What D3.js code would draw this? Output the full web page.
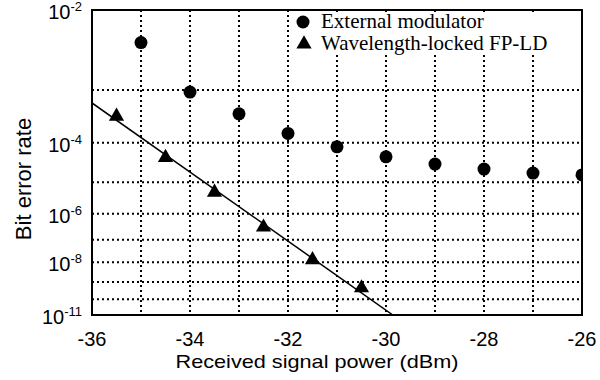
<!DOCTYPE html>
<html>
<head>
<meta charset="utf-8">
<script src="https://cdn.jsdelivr.net/npm/d3@7"></script>
<style>
  body { margin: 0; background: #fff; }
  text { fill: #000; }
</style>
</head>
<body>
<div id="chart"></div>
<script>
// received power (dBm) and bit error rate
const extPower = [-35, -34, -33, -32, -31, -30, -29, -28, -27, -26];
const extBer = [4.5e-3, 9.3e-4, 3.9e-4, 1.6e-4, 8.1e-5, 4.7e-5, 3.1e-5, 2.3e-5, 1.8e-5, 1.6e-5];

const fpPower = [-35.5, -34.5, -33.5, -32.5, -31.5, -30.5];
const fpBer = [3.5e-4, 4.5e-5, 5.0e-6, 3.2e-7, 1.3e-8, 4.6e-10];

// fitted line for the FP-LD points
const fitPower = [-36, -29.86];
const fitBer = [6.1e-4, 1e-11];

const xTicks = [-36, -34, -32, -30, -28, -26];
const xGrid = [-35, -34, -33, -32, -31, -30, -29, -28, -27];
const yTickExp = [2, 4, 6, 8, 11];
const yGridExp = [3, 4, 5, 6, 7, 8, 9, 10];

const legendNames = ["External modulator", "Wavelength-locked FP-LD"];

const width = 600, height = 380;
const pLeft = 92, pRight = 582, pTop = 10, pBottom = 315;

// BER paper: roughly log(-log(BER)) spacing
function berT(b) { return Math.log10(-Math.log10(b) - 0.5); }

const x = d3.scaleLinear().domain([-36, -26]).range([pLeft, pRight]);
const yLin = d3.scaleLinear().domain([berT(1e-2), berT(1e-11)]).range([pTop, pBottom]);
const y = function (b) { return yLin(berT(b)); };

const svg = d3.select("#chart").append("svg")
    .attr("width", width)
    .attr("height", height);

const grid = svg.append("g")
    .attr("stroke", "#000")
    .attr("stroke-width", 2)
    .attr("stroke-dasharray", "2,3");

grid.selectAll(".hg")
    .data(yGridExp)
    .enter()
    .append("line")
    .attr("x1", pLeft)
    .attr("x2", pRight)
    .attr("y1", d => y(Math.pow(10, -d)))
    .attr("y2", d => y(Math.pow(10, -d)));

grid.selectAll(".vg")
    .data(xGrid)
    .enter()
    .append("line")
    .attr("x1", d => x(d))
    .attr("x2", d => x(d))
    .attr("y1", pTop)
    .attr("y2", pBottom);

// legend box hides the grid behind it
svg.append("rect")
    .attr("x", 294)
    .attr("y", 15)
    .attr("width", pRight - 295)
    .attr("height", 38)
    .attr("fill", "#fff");

svg.append("clipPath").attr("id", "plotclip")
    .append("rect")
    .attr("x", pLeft).attr("y", pTop)
    .attr("width", pRight - pLeft).attr("height", pBottom - pTop);

const plot = svg.append("g").attr("clip-path", "url(#plotclip)");

const fitData = fitPower.map((p, i) => ({ p: p, b: fitBer[i] }));
plot.append("path")
    .datum(fitData)
    .attr("fill", "none")
    .attr("stroke", "#000")
    .attr("stroke-width", 1.5)
    .attr("d", d3.line()
        .x(d => x(d.p))
        .y(d => y(d.b)));

plot.selectAll(".ext")
    .data(extPower)
    .enter()
    .append("circle")
    .attr("cx", d => x(d))
    .attr("cy", (d, i) => y(extBer[i]))
    .attr("r", 6.5)
    .attr("fill", "#000");

const tri = d3.symbol().type(d3.symbolTriangle).size(100);
plot.selectAll(".fp")
    .data(fpPower)
    .enter()
    .append("path")
    .attr("d", tri)
    .attr("transform", (d, i) => "translate(" + x(d) + "," + y(fpBer[i]) + ")")
    .attr("fill", "#000");

// frame
svg.append("rect")
    .attr("x", pLeft)
    .attr("y", pTop)
    .attr("width", pRight - pLeft)
    .attr("height", pBottom - pTop)
    .attr("fill", "none")
    .attr("stroke", "#000")
    .attr("stroke-width", 2);

// x axis labels
svg.selectAll(".xt")
    .data(xTicks)
    .enter()
    .append("text")
    .attr("x", d => x(d))
    .attr("y", 346)
    .attr("text-anchor", "middle")
    .style("font-family", "Liberation Sans, Arial, sans-serif")
    .style("font-size", "20px")
    .text(d => d);

svg.append("text")
    .attr("x", 317)
    .attr("y", 368)
    .attr("text-anchor", "middle")
    .attr("textLength", 283)
    .attr("lengthAdjust", "spacingAndGlyphs")
    .style("font-family", "Liberation Sans, Arial, sans-serif")
    .style("font-size", "19px")
    .text("Received signal power (dBm)");

// y axis labels: 10 with superscript exponent
const yt = svg.selectAll(".yt")
    .data(yTickExp)
    .enter()
    .append("text")
    .attr("x", 82)
    .attr("y", d => y(Math.pow(10, -d)) + 9)
    .attr("text-anchor", "end")
    .style("font-family", "Liberation Sans, Arial, sans-serif")
    .style("font-size", "20px");
yt.append("tspan").text("10");
yt.append("tspan")
    .attr("dy", -8)
    .style("font-size", "13px")
    .text(d => "-" + d);

svg.append("text")
    .attr("transform", "translate(31,179) rotate(-90)")
    .attr("text-anchor", "middle")
    .style("font-family", "Liberation Sans, Arial, sans-serif")
    .style("font-size", "22px")
    .text("Bit error rate");

// legend
const legend = svg.append("g")
    .style("font-family", "Liberation Serif, Times New Roman, serif")
    .style("font-size", "21px");

legend.append("circle")
    .attr("cx", 303)
    .attr("cy", 22)
    .attr("r", 6.5)
    .attr("fill", "#000");
legend.append("path")
    .attr("d", tri)
    .attr("transform", "translate(304,44)")
    .attr("fill", "#000");
legend.selectAll(".lt")
    .data(legendNames)
    .enter()
    .append("text")
    .attr("x", 321)
    .attr("y", (d, i) => 28 + i * 22)
    .text(d => d);
</script>
</body>
</html>
